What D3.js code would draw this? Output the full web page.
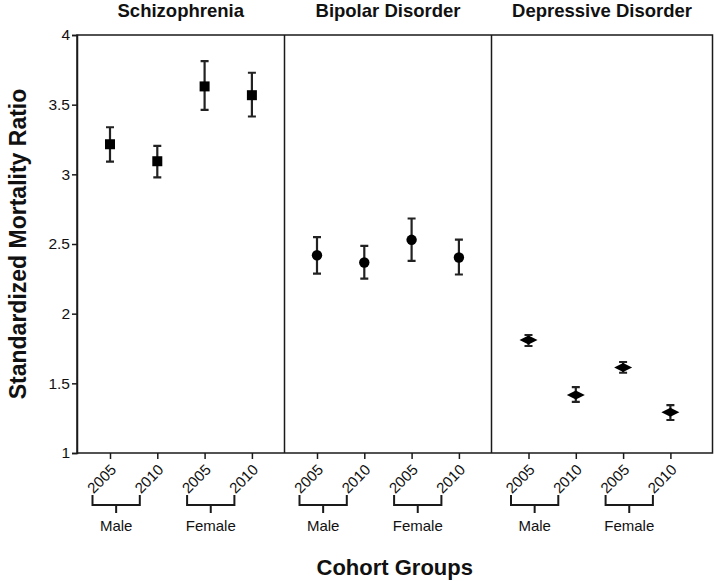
<!DOCTYPE html>
<html>
<head>
<meta charset="utf-8">
<script src="https://cdn.jsdelivr.net/npm/d3@7/dist/d3.min.js"></script>
<style>
  html, body { margin: 0; padding: 0; background: #fff; }
  svg { display: block; font-family: "Liberation Sans", Arial, sans-serif; }
</style>
</head>
<body>
<svg id="chart" width="714" height="581"></svg>
<script>
// ---------------- data ----------------
const panelTitles = ["Schizophrenia", "Bipolar Disorder", "Depressive Disorder"];
const groups = ["Male 2005", "Male 2010", "Female 2005", "Female 2010"];
const yearLabels = ["2005", "2010", "2005", "2010"];
const sexLabels = ["Male", "Female"];
const yTicks = [1, 1.5, 2, 2.5, 3, 3.5, 4];

const schizoSMR   = [3.216, 3.094, 3.631, 3.568];
const schizoLow   = [3.091, 2.978, 3.463, 3.415];
const schizoHigh  = [3.338, 3.204, 3.813, 3.729];

const bipolarSMR  = [2.419, 2.367, 2.530, 2.403];
const bipolarLow  = [2.288, 2.252, 2.379, 2.281];
const bipolarHigh = [2.549, 2.487, 2.683, 2.532];

const depressSMR  = [1.811, 1.417, 1.614, 1.293];
const depressLow  = [1.768, 1.367, 1.576, 1.237];
const depressHigh = [1.847, 1.473, 1.653, 1.343];

const markerShapes = ["square", "circle", "diamond"];

// ---------------- layout ----------------
const svg = d3.select("#chart");
const plotTop = 35, plotBottom = 453;
const panelEdges = [77, 284.5, 491.5, 712.5];
const firstOffset = [33, 32.5, 37];
const step = 47.3;

const y = d3.scaleLinear().domain([1, 4]).range([plotBottom, plotTop]);

const series = [
  { smr: schizoSMR, low: schizoLow, high: schizoHigh },
  { smr: bipolarSMR, low: bipolarLow, high: bipolarHigh },
  { smr: depressSMR, low: depressLow, high: depressHigh }
];

const ink = "#1a1a1a";

// frame
svg.append("rect")
  .attr("x", panelEdges[0]).attr("y", plotTop)
  .attr("width", panelEdges[3] - panelEdges[0]).attr("height", plotBottom - plotTop)
  .attr("fill", "none").attr("stroke", ink).attr("stroke-width", 1.5);
[panelEdges[1], panelEdges[2]].forEach(px => {
  svg.append("line").attr("x1", px).attr("x2", px)
    .attr("y1", plotTop).attr("y2", plotBottom)
    .attr("stroke", ink).attr("stroke-width", 1.5);
});

// y axis
const yAxis = svg.append("g")
  .attr("transform", `translate(${panelEdges[0]},0)`)
  .call(d3.axisLeft(y).tickValues(yTicks).tickFormat(d3.format("")).tickSize(5).tickPadding(2));
yAxis.select(".domain").attr("stroke", ink).attr("stroke-width", 1.5);
yAxis.selectAll(".tick line").attr("stroke", ink).attr("stroke-width", 1.5);
yAxis.selectAll(".tick text").attr("font-size", 15.5).attr("fill", "#111")
  .attr("font-family", "'Liberation Sans', Arial, sans-serif");

// y label
svg.append("text")
  .attr("transform", `translate(26,${(plotTop + plotBottom) / 2}) rotate(-90)`)
  .attr("text-anchor", "middle")
  .attr("font-size", 23).attr("font-weight", "bold").attr("fill", "#111")
  .text("Standardized Mortality Ratio");

// x label
svg.append("text")
  .attr("x", (panelEdges[0] + panelEdges[3]) / 2).attr("y", 575)
  .attr("text-anchor", "middle")
  .attr("font-size", 22).attr("font-weight", "bold").attr("fill", "#111")
  .text("Cohort Groups");

panelTitles.forEach((title, p) => {
  const x0 = panelEdges[p] + firstOffset[p];
  const x = d3.scalePoint().domain(groups).range([x0, x0 + 3 * step]);

  // title
  svg.append("text")
    .attr("x", (panelEdges[p] + panelEdges[p + 1]) / 2).attr("y", 17)
    .attr("text-anchor", "middle")
    .attr("font-size", 18.5).attr("font-weight", "bold").attr("fill", "#111")
    .text(title);

  // x axis
  const xa = svg.append("g")
    .attr("transform", `translate(0,${plotBottom})`)
    .call(d3.axisBottom(x).tickSize(6).tickFormat((d, i) => yearLabels[i]));
  xa.select(".domain").remove();
  xa.selectAll(".tick line").attr("stroke", ink).attr("stroke-width", 1.5);
  xa.selectAll(".tick text")
    .attr("font-size", 15).attr("fill", "#111")
    .attr("font-family", "'Liberation Sans', Arial, sans-serif")
    .attr("x", 0).attr("y", 0).attr("dy", "0.35em")
    .attr("text-anchor", "end")
    .attr("transform", "translate(3,14) rotate(-45)");

  // brackets
  sexLabels.forEach((sex, s) => {
    const a = x(groups[2 * s]) - 17.5, b = x(groups[2 * s + 1]) - 17.5;
    const m = (a + b) / 2;
    svg.append("path")
      .attr("d", `M${a},495V505H${b}V495M${m},505V513`)
      .attr("fill", "none").attr("stroke", ink).attr("stroke-width", 2);
    svg.append("text")
      .attr("x", m).attr("y", 531)
      .attr("text-anchor", "middle")
      .attr("font-size", 15).attr("fill", "#111")
      .text(sex);
  });

  // error bars and markers
  const sd = series[p];
  const g = svg.append("g");
  groups.forEach((grp, i) => {
    const cx = x(grp);
    g.append("path")
      .attr("d", `M${cx},${y(sd.low[i])}V${y(sd.high[i])}M${cx - 4},${y(sd.low[i])}H${cx + 4}M${cx - 4},${y(sd.high[i])}H${cx + 4}`)
      .attr("fill", "none").attr("stroke", "#222").attr("stroke-width", 2.2);
    const cy = y(sd.smr[i]);
    const shape = markerShapes[p];
    if (shape === "square") {
      g.append("rect").attr("x", cx - 5).attr("y", cy - 5).attr("width", 10).attr("height", 10).attr("fill", "#000");
    } else if (shape === "circle") {
      g.append("circle").attr("cx", cx).attr("cy", cy).attr("r", 5.2).attr("fill", "#000");
    } else {
      g.append("path").attr("d", `M${cx - 9},${cy}L${cx},${cy - 4.5}L${cx + 9},${cy}L${cx},${cy + 4.5}Z`).attr("fill", "#000");
    }
  });
});
</script>
</body>
</html>
